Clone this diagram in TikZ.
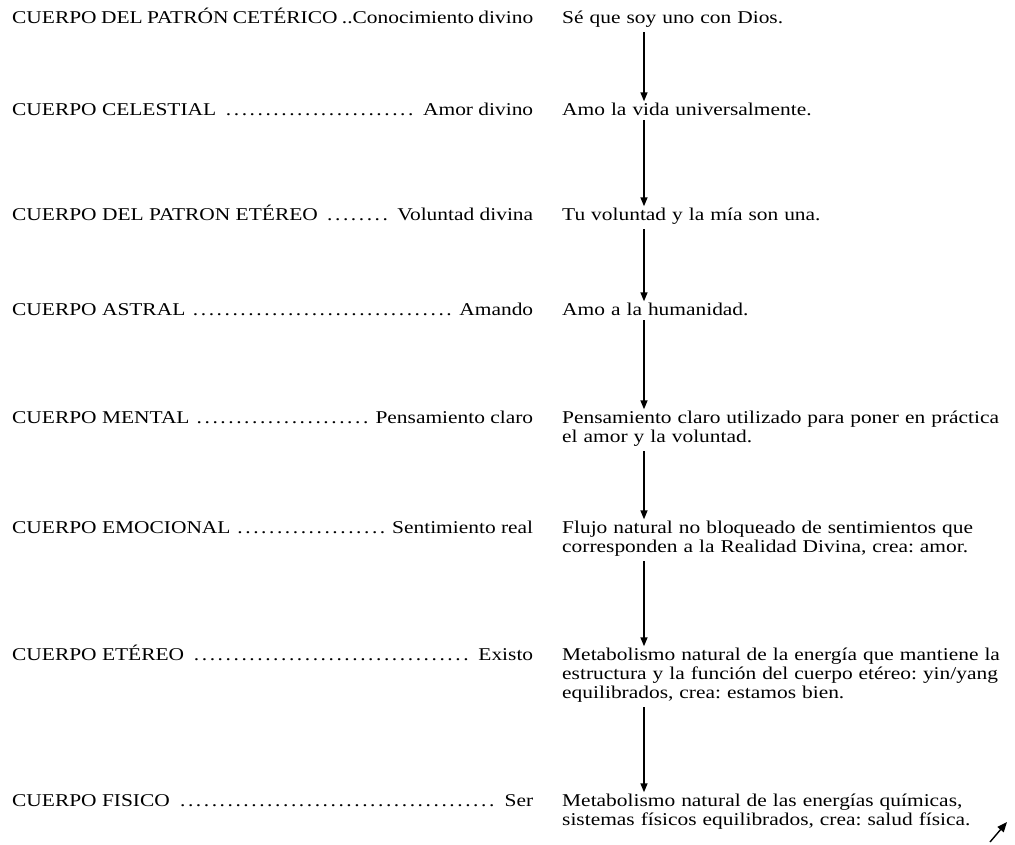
\documentclass[tikz,border=0pt]{standalone}
\usepackage{fontspec}
\setmainfont{Liberation Serif}[FakeStretch=1.19]
\usetikzlibrary{arrows.meta}
\frenchspacing

\newcommand{\renglon}[2]{\hbox to 521pt{#1\ \dotfill\ #2}}

\begin{document}
\begin{tikzpicture}[
    x=1pt, y=-1pt,
    cuerpo/.style={anchor=base west, inner sep=0pt, font=\fontsize{18pt}{19pt}\selectfont},
    frase/.style={anchor=base west, inner sep=0pt, align=left, text width=452pt, font=\fontsize{18pt}{19pt}\selectfont},
    flecha/.style={-{Triangle[length=9pt,width=7pt]}, line width=1.5pt, shorten <=5pt, shorten >=1pt}
]
\useasboundingbox (0,0) rectangle (1015,844);
\coordinate (eje) at (644,0);

% Cuerpos
\node[cuerpo] (c1) at (12,23) {\hbox to 521pt{CUERPO DEL PATRÓN CETÉRICO \hfill..Conocimiento divino}};
\node[cuerpo] (c2) at (12,115) {\renglon{CUERPO CELESTIAL}{Amor divino}};
\node[cuerpo] (c3) at (12,220) {\renglon{CUERPO DEL PATRON ETÉREO}{Voluntad divina}};
\node[cuerpo] (c4) at (12,315) {\renglon{CUERPO ASTRAL}{Amando}};
\node[cuerpo] (c5) at (12,423) {\renglon{CUERPO MENTAL}{Pensamiento claro}};
\node[cuerpo] (c6) at (12,533) {\renglon{CUERPO EMOCIONAL}{Sentimiento real}};
\node[cuerpo] (c7) at (12,660) {\renglon{CUERPO ETÉREO}{Existo}};
\node[cuerpo] (c8) at (12,806) {\renglon{CUERPO FISICO}{Ser}};

% Frases
\node[frase] (f1) at (562,23) {Sé que soy uno con Dios.};
\node[frase] (f2) at (562,115) {Amo la vida universalmente.};
\node[frase] (f3) at (562,220) {Tu voluntad y la mía son una.};
\node[frase] (f4) at (562,315) {Amo a la humanidad.};
\node[frase] (f5) at (562,423) {Pensamiento claro utilizado para poner en práctica\\el amor y la voluntad.};
\node[frase] (f6) at (562,533) {Flujo natural no bloqueado de sentimientos que\\corresponden a la Realidad Divina, crea: amor.};
\node[frase] (f7) at (562,660) {Metabolismo natural de la energía que mantiene la\\estructura y la función del cuerpo etéreo: yin/yang\\equilibrados, crea: estamos bien.};
\node[frase] (f8) at (562,806) {Metabolismo natural de las energías químicas,\\sistemas físicos equilibrados, crea: salud física.};

% Flechas
\draw[flecha] (f1.south -| eje) -- (f2.north -| eje);
\draw[flecha] (f2.south -| eje) -- (f3.north -| eje);
\draw[flecha] (f3.south -| eje) -- (f4.north -| eje);
\draw[flecha] (f4.south -| eje) -- (f5.north -| eje);
\draw[flecha] (f5.south -| eje) -- (f6.north -| eje);
\draw[flecha] (f6.south -| eje) -- (f7.north -| eje);
\draw[flecha] (f7.south -| eje) -- (f8.north -| eje);

% Trazo final
\coordinate (trazo) at (990,842);
\coordinate (punta) at (1007,822);
\draw[-{Triangle[length=10pt,width=8pt]}, line width=1.4pt] (trazo) -- (punta);

\end{tikzpicture}
\end{document}
